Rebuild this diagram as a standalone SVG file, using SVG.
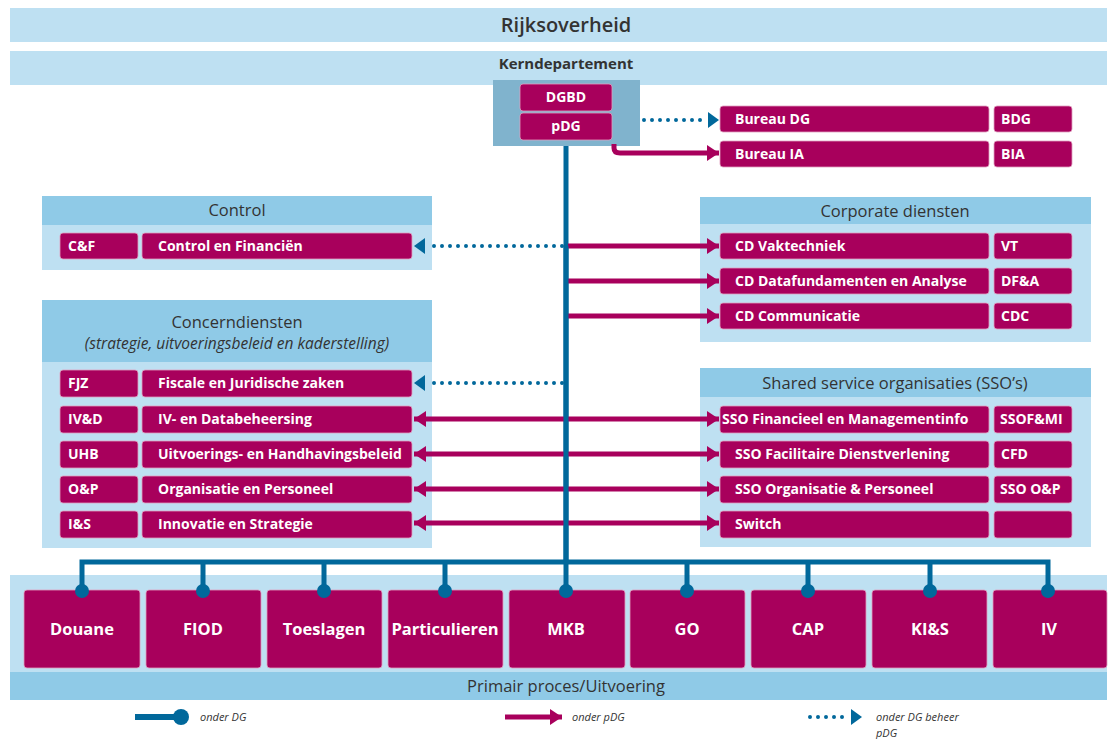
<svg xmlns="http://www.w3.org/2000/svg" width="1109" height="739" viewBox="0 0 1109 739">
<style>
.band{fill:#bee0f2}
.hdr{fill:#8fcae7}
.box{fill:#a8005c;stroke:#e0a0bf;stroke-width:0.8}
.bt{font-family:"Open Sans","Liberation Sans",sans-serif;font-weight:bold;fill:#fff;font-size:14px}
.bb{font-family:"Open Sans","Liberation Sans",sans-serif;font-weight:bold;fill:#fff;font-size:16.5px;text-anchor:middle}
.ht{font-family:"Open Sans","Liberation Sans",sans-serif;fill:#333;font-size:16.5px;text-anchor:middle}
.lg{font-family:"Open Sans","Liberation Sans",sans-serif;fill:#333;font-size:11px;font-style:italic}
.mg{stroke:#a8005c;stroke-width:5;fill:none}
.bl{stroke:#01689b;stroke-width:5;fill:none}
.dt{stroke:#01689b;stroke-width:4;fill:none;stroke-dasharray:0 8;stroke-linecap:round}
</style>
<defs>
<marker id="am" markerUnits="userSpaceOnUse" markerWidth="12" markerHeight="16" refX="12" refY="8" orient="auto-start-reverse" viewBox="0 0 12 16"><path d="M0,0 L12,8 L0,16 z" fill="#a8005c"/></marker>
<marker id="ab" markerUnits="userSpaceOnUse" markerWidth="11" markerHeight="16" refX="11" refY="8" orient="auto" viewBox="0 0 11 16"><path d="M0,0 L11,8 L0,16 z" fill="#01689b"/></marker>
</defs>
<rect width="1109" height="739" fill="#fff"/>

<g id="rijksoverheid">
<rect class="band" x="10" y="8" width="1097" height="34"/>
<text x="566" y="32" class="ht" style="font-size:20px;font-weight:600">Rijksoverheid</text>
</g>
<g id="kerndepartement">
<rect class="band" x="10" y="51" width="1097" height="34"/>
<text x="566" y="69" class="ht" style="font-size:15px;font-weight:bold">Kerndepartement</text>
<rect x="493" y="80" width="147" height="66" fill="#80b3cd"/>
</g>
<g id="dgbd"><rect class="box" x="520" y="84" width="92" height="27" rx="3"/><text class="bt" x="566" y="102" text-anchor="middle">DGBD</text></g>
<g id="pdg"><rect class="box" x="520" y="113" width="92" height="27" rx="3"/><text class="bt" x="566" y="131" text-anchor="middle">pDG</text></g>

<g id="bureau-dg"><rect class="box" x="720" y="106" width="269" height="26" rx="3"/><rect class="box" x="994" y="106" width="78" height="26" rx="3"/><text class="bt" x="735" y="124">Bureau DG</text><text class="bt" x="1001" y="124">BDG</text></g>
<g id="bureau-ia"><rect class="box" x="720" y="141" width="269" height="26" rx="3"/><rect class="box" x="994" y="141" width="78" height="26" rx="3"/><text class="bt" x="735" y="159">Bureau IA</text><text class="bt" x="1001" y="159">BIA</text></g>

<g id="control">
<rect class="band" x="42" y="196" width="390" height="74"/>
<rect class="hdr" x="42" y="196" width="390" height="29"/>
<text class="ht" x="237" y="216">Control</text>
<rect class="box" x="60" y="233" width="78" height="26" rx="3"/><rect class="box" x="142" y="233" width="270" height="26" rx="3"/>
<text class="bt" x="68" y="251">C&amp;F</text><text class="bt" x="158" y="251">Control en Financiën</text>
</g>

<g id="concerndiensten">
<rect class="band" x="42" y="300" width="390" height="248"/>
<rect class="hdr" x="42" y="300" width="390" height="62"/>
<text class="ht" x="237" y="328">Concerndiensten</text>
<text class="ht" x="237" y="349" font-style="italic" style="font-size:15.5px">(strategie, uitvoeringsbeleid en kaderstelling)</text>
<g id="fjz"><rect class="box" x="60" y="370" width="78" height="27" rx="3"/><rect class="box" x="142" y="370" width="270" height="27" rx="3"/><text class="bt" x="68" y="388">FJZ</text><text class="bt" x="158" y="388">Fiscale en Juridische zaken</text></g>
<g id="ivd"><rect class="box" x="60" y="406" width="78" height="27" rx="3"/><rect class="box" x="142" y="406" width="270" height="27" rx="3"/><text class="bt" x="68" y="424">IV&amp;D</text><text class="bt" x="158" y="424">IV- en Databeheersing</text></g>
<g id="uhb"><rect class="box" x="60" y="441" width="78" height="27" rx="3"/><rect class="box" x="142" y="441" width="270" height="27" rx="3"/><text class="bt" x="68" y="459">UHB</text><text class="bt" x="158" y="459">Uitvoerings- en Handhavingsbeleid</text></g>
<g id="op"><rect class="box" x="60" y="476" width="78" height="27" rx="3"/><rect class="box" x="142" y="476" width="270" height="27" rx="3"/><text class="bt" x="68" y="494">O&amp;P</text><text class="bt" x="158" y="494">Organisatie en Personeel</text></g>
<g id="is"><rect class="box" x="60" y="511" width="78" height="27" rx="3"/><rect class="box" x="142" y="511" width="270" height="27" rx="3"/><text class="bt" x="68" y="529">I&amp;S</text><text class="bt" x="158" y="529">Innovatie en Strategie</text></g>
</g>

<g id="corporate-diensten">
<rect class="band" x="700" y="197" width="391" height="145"/>
<rect class="hdr" x="700" y="197" width="391" height="27"/>
<text class="ht" x="895" y="217">Corporate diensten</text>
<g id="vt"><rect class="box" x="720" y="233" width="269" height="26" rx="3"/><rect class="box" x="994" y="233" width="78" height="26" rx="3"/><text class="bt" x="735" y="251">CD Vaktechniek</text><text class="bt" x="1001" y="251">VT</text></g>
<g id="dfa"><rect class="box" x="720" y="268" width="269" height="26" rx="3"/><rect class="box" x="994" y="268" width="78" height="26" rx="3"/><text class="bt" x="735" y="286">CD Datafundamenten en Analyse</text><text class="bt" x="1001" y="286">DF&amp;A</text></g>
<g id="cdc"><rect class="box" x="720" y="303" width="269" height="26" rx="3"/><rect class="box" x="994" y="303" width="78" height="26" rx="3"/><text class="bt" x="735" y="321">CD Communicatie</text><text class="bt" x="1001" y="321">CDC</text></g>
</g>

<g id="sso">
<rect class="band" x="700" y="368" width="391" height="179"/>
<rect class="hdr" x="700" y="368" width="391" height="29"/>
<text class="ht" x="895" y="389">Shared service organisaties (SSO’s)</text>
<g id="ssofmi"><rect class="box" x="720" y="406" width="269" height="27" rx="3"/><rect class="box" x="994" y="406" width="78" height="27" rx="3"/><text class="bt" x="722" y="424">SSO Financieel en Managementinfo</text><text class="bt" x="1000" y="424">SSOF&amp;MI</text></g>
<g id="cfd"><rect class="box" x="720" y="441" width="269" height="27" rx="3"/><rect class="box" x="994" y="441" width="78" height="27" rx="3"/><text class="bt" x="735" y="459">SSO Facilitaire Dienstverlening</text><text class="bt" x="1001" y="459">CFD</text></g>
<g id="ssoop"><rect class="box" x="720" y="476" width="269" height="27" rx="3"/><rect class="box" x="994" y="476" width="78" height="27" rx="3"/><text class="bt" x="735" y="494">SSO Organisatie &amp; Personeel</text><text class="bt" x="1000" y="494">SSO O&amp;P</text></g>
<g id="switch"><rect class="box" x="720" y="511" width="269" height="27" rx="3"/><rect class="box" x="994" y="511" width="78" height="27" rx="3"/><text class="bt" x="735" y="529">Switch</text></g>
</g>

<g id="primair-proces">
<rect class="band" x="10" y="575" width="1097" height="97"/>
<rect class="hdr" x="10" y="672" width="1097" height="28"/>
<text class="ht" x="566" y="692">Primair proces/Uitvoering</text>
<g id="douane"><rect class="box" x="24" y="590" width="116" height="78" rx="3"/><text class="bb" x="82" y="635">Douane</text></g>
<g id="fiod"><rect class="box" x="146" y="590" width="115" height="78" rx="3"/><text class="bb" x="203" y="635">FIOD</text></g>
<g id="toeslagen"><rect class="box" x="267" y="590" width="115" height="78" rx="3"/><text class="bb" x="324" y="635">Toeslagen</text></g>
<g id="particulieren"><rect class="box" x="388" y="590" width="115" height="78" rx="3"/><text class="bb" x="445" y="635">Particulieren</text></g>
<g id="mkb"><rect class="box" x="509" y="590" width="116" height="78" rx="3"/><text class="bb" x="566" y="635">MKB</text></g>
<g id="go"><rect class="box" x="630" y="590" width="115" height="78" rx="3"/><text class="bb" x="687" y="635">GO</text></g>
<g id="cap"><rect class="box" x="751" y="590" width="115" height="78" rx="3"/><text class="bb" x="808" y="635">CAP</text></g>
<g id="kis"><rect class="box" x="872" y="590" width="115" height="78" rx="3"/><text class="bb" x="930" y="635">KI&amp;S</text></g>
<g id="iv"><rect class="box" x="993" y="590" width="114" height="78" rx="3"/><text class="bb" x="1049" y="635">IV</text></g>
</g>

<g id="connectors">
<path class="bl" d="M566,146 V591"/>
<path class="bl" d="M82,591 V562 H1048 V591 M203,562 V591 M324,562 V591 M445,562 V591 M687,562 V591 M808,562 V591 M930,562 V591"/>
<g fill="#01689b">
<circle cx="82" cy="591" r="7"/><circle cx="203" cy="591" r="7"/><circle cx="324" cy="591" r="7"/><circle cx="445" cy="591" r="7"/><circle cx="566" cy="591" r="7"/><circle cx="687" cy="591" r="7"/><circle cx="808" cy="591" r="7"/><circle cx="930" cy="591" r="7"/><circle cx="1048" cy="591" r="7"/>
</g>
<path class="dt" d="M644,120 H708"/>
<path d="M708,120 H719" stroke="none" marker-end="url(#ab)"/>
<path class="mg" d="M614,144 V148 Q614,153 620,153 H719" marker-end="url(#am)"/>
<path class="dt" d="M562,246 H426"/>
<path d="M426,246 H414" stroke="none" marker-end="url(#ab)"/>
<path class="dt" d="M562,383 H426"/>
<path d="M426,383 H414" stroke="none" marker-end="url(#ab)"/>
<path class="mg" d="M568,246 H719" marker-end="url(#am)"/>
<path class="mg" d="M568,281 H719" marker-end="url(#am)"/>
<path class="mg" d="M568,316 H719" marker-end="url(#am)"/>
<path class="mg" d="M414,419 H719" marker-start="url(#am)" marker-end="url(#am)"/>
<path class="mg" d="M414,454 H719" marker-start="url(#am)" marker-end="url(#am)"/>
<path class="mg" d="M414,489 H719" marker-start="url(#am)" marker-end="url(#am)"/>
<path class="mg" d="M414,523 H719" marker-start="url(#am)" marker-end="url(#am)"/>
<path class="bl" d="M566,246 V560"/>
</g>

<g id="legend">
<path d="M135,717 H180" stroke="#01689b" stroke-width="6"/>
<circle cx="181" cy="717" r="8" fill="#01689b"/>
<text class="lg" x="200" y="721">onder DG</text>
<path class="mg" d="M505,717 H562" marker-end="url(#am)"/>
<text class="lg" x="572" y="721">onder pDG</text>
<path class="dt" d="M810,717 H850"/>
<path d="M850,717 H862" stroke="none" marker-end="url(#ab)"/>
<text class="lg" x="876" y="721">onder DG beheer</text>
<text class="lg" x="876" y="737">pDG</text>
</g>
</svg>
